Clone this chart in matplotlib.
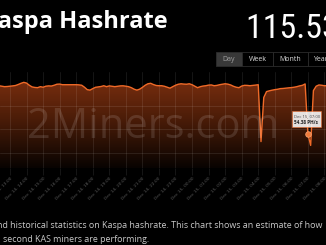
import numpy as np
import pandas as pd
import matplotlib
matplotlib.use("Agg")
import matplotlib.pyplot as plt
import matplotlib.dates as mdates
from matplotlib.patches import Rectangle, Polygon
from matplotlib.colors import LinearSegmentedColormap

# hashrate (PH/s), un punto cada 10 min desde Dec 14 12:20
hashrate = [
    115.6, 115.0, 114.4, 114.6, 115.0, 115.4, 115.9, 117.2, 118.7, 119.9,
    119.0, 116.2, 114.1, 113.4, 113.1, 114.4, 113.7, 115.0, 115.4, 115.2,
    116.2, 117.5, 117.7, 116.9, 116.9, 116.9, 116.9, 116.9, 116.9, 116.7,
    116.2, 113.7, 110.6, 110.0, 111.9, 113.6, 114.1, 114.6, 115.6, 114.4,
    115.4, 114.9, 114.4, 114.9, 115.4, 115.5, 115.0, 114.4, 113.1, 111.2,
    110.0, 111.2, 113.5, 116.2, 118.1, 118.7, 117.1, 115.9, 115.6, 115.6,
    114.9, 113.7, 112.5, 114.4, 116.2, 117.5, 118.1, 117.7, 117.5, 118.1,
    116.9, 115.0, 113.1, 114.4, 115.2, 115.6, 116.4, 116.6, 115.6, 116.0,
    116.9, 117.5, 118.1, 117.6, 116.6, 114.9, 113.7, 113.1, 115.2, 116.1,
    116.0, 115.6, 116.0, 116.4, 116.9, 44.4, 100.6, 108.1, 109.1, 109.9,
    110.6, 111.1, 111.9, 112.1, 112.5, 112.9, 113.2, 113.7, 114.4, 115.4,
    116.1, 117.9, 54.38, 39.5, 109.4, 115.0, 116.6, 116.2, 115.6, 115.6,
]
times = pd.date_range("2022-12-14 12:20", periods=len(hashrate), freq="10min")

view_start = pd.Timestamp("2022-12-14 12:23:45")
view_end = pd.Timestamp("2022-12-15 08:05:40")
hover_time = pd.Timestamp("2022-12-15 07:00")

title = "Kaspa Hashrate"
current = "115.53 PH/s"
buttons = ["Day", "Week", "Month", "Year"]
desc_1 = "and historical statistics on Kaspa hashrate. This chart shows an estimate of how"
desc_2 = "second KAS miners are performing."

W, H = 326, 245
ORANGE = "#f06a28"
FONT = ["Open Sans", "DejaVu Sans"]


def fx(px):
    return px / W


def fy(py):
    return 1 - py / H


fig = plt.figure(figsize=(W / 100, H / 100), dpi=100, facecolor="black")
ax = fig.add_axes([0, fy(168), 1, (168 - 72) / H])
ax.set_facecolor("black")

x = mdates.date2num(times)
ylo, yhi = 10.7, 133.1
ax.set_xlim(mdates.date2num(view_start), mdates.date2num(view_end))
ax.set_ylim(ylo, yhi)

# relleno con degradado recortado bajo la curva
verts = [(x[0], ylo)] + list(zip(x, hashrate)) + [(x[-1], ylo)]
poly = Polygon(verts, closed=True, facecolor="none", edgecolor="none")
ax.add_patch(poly)
cmap = LinearSegmentedColormap.from_list("fill", ["#080301", "#4a1c08", "#823110"])
grad = np.linspace(0, 1, 256)[:, None]
im = ax.imshow(grad, extent=[x[0], x[-1], ylo, yhi], origin="lower",
               aspect="auto", cmap=cmap, zorder=1)
im.set_clip_path(poly)

ax.plot(x, hashrate, color=ORANGE, lw=1.0, zorder=3)

hi = list(times).index(hover_time)
ax.plot(x[hi], hashrate[hi], "o", ms=4, mfc="#f07a3a", mec="#f6a070",
        mew=0.6, zorder=5)

ax.xaxis.set_major_locator(mdates.HourLocator(interval=1))
ax.xaxis.set_major_formatter(mdates.DateFormatter("%b %d, %H:%M"))
ax.set_yticks([30, 60, 90])
ax.set_axisbelow(False)
ax.grid(True, color="white", alpha=0.12, lw=0.5)
ax.tick_params(axis="y", length=0, labelleft=False)
ax.tick_params(axis="x", length=5, width=0.5, color=(1, 1, 1, 0.12),
               labelsize=3.2, labelcolor="#5a5a5a", pad=1)
for lab in ax.get_xticklabels():
    lab.set_rotation(45)
    lab.set_ha("right")
    lab.set_rotation_mode("anchor")
for s in ax.spines.values():
    s.set_visible(False)

# marca de agua
fig.text(fx(153), fy(138), "2Miners.com", ha="center", va="baseline",
         fontsize=30, family=FONT, color="white", alpha=0.12)

# cabecera
fig.text(fx(168), fy(28.3), title, ha="right", va="baseline", fontsize=17,
         weight="bold", family=FONT, color="white")
fig.text(fx(246), fy(37.7), current, ha="left", va="baseline", fontsize=24.5,
         family=["Roboto Condensed", "Liberation Sans Narrow", "DejaVu Sans"],
         color="white")

# botones de rango
edges = [216, 242, 273, 308, 340]
for i, b in enumerate(buttons):
    x0, x1 = edges[i], edges[i + 1]
    face = "#383838" if i == 0 else "black"
    fig.patches.append(Rectangle((fx(x0), fy(66)), fx(x1 - x0), (66 - 52) / H,
                                 transform=fig.transFigure, facecolor=face,
                                 edgecolor="#2c2c2c", lw=0.6))
    fig.text(fx((x0 + x1) / 2 if i < 3 else x0 + 12), fy(59.5), b,
             ha="center", va="center", fontsize=5, family=FONT,
             color="#a0a0a0" if i == 0 else "#dddddd")

# tooltip
fig.patches.append(Rectangle((fx(292), fy(127)), fx(29), 16 / H,
                             transform=fig.transFigure, facecolor="#f7f7f7",
                             alpha=0.9, edgecolor=ORANGE, lw=0.4))
fig.text(fx(294), fy(117.5), hover_time.strftime("%b %d, %H:%M"), fontsize=3,
         family=FONT, color="#444444", va="baseline")
fig.text(fx(294), fy(123.5), f"{hashrate[hi]:.2f} PH/s", fontsize=3.4,
         weight="bold", family=FONT, color="#222222", va="baseline")

# descripcion
fig.text(fx(-8), fy(228), desc_1, ha="left", va="baseline", fontsize=6.4,
         family=FONT, color="#c8c8c8")
fig.text(fx(3), fy(241.5), desc_2, ha="left", va="baseline", fontsize=6.4,
         family=FONT, color="#c8c8c8")

fig.savefig("out.png", dpi=100, facecolor="black")
